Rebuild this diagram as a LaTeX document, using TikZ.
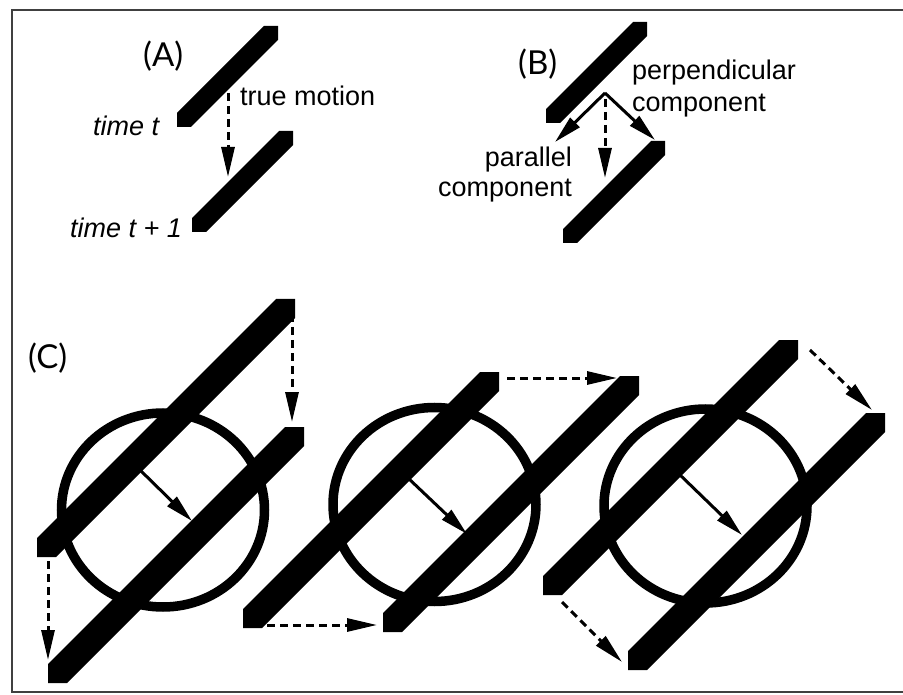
\documentclass[tikz,border=0pt]{standalone}
\usepackage{fontspec}
\setmainfont{Liberation Sans}
\newfontfamily\lblfont{Lato}
\usetikzlibrary{arrows.meta}
\newcommand\hexbar[5]{% name, x, y, side, diag
  \fill (#2,#3) -- ++(#4,0) -- ++(#5,-#5) -- ++(0,-#4) -- ++(-#4,0) -- ++(-#5,#5) -- cycle;
}
\tikzset{
  txt/.style={font=\fontsize{27}{32}\selectfont, inner sep=0pt},
  itxt/.style={font=\fontsize{27}{32}\selectfont\itshape, inner sep=0pt},
  plabel/.style={font=\lblfont\fontsize{33}{36}\selectfont, inner sep=0pt},
  dasharrow/.style={line width=3pt, dash pattern=on 8pt off 5pt, -{Triangle[length=30pt,width=13pt]}},
  solidarrow/.style={line width=3pt, -{Triangle[length=28pt,width=13pt]}},
  ring/.style={line width=9.5pt, x radius=101.5, y radius=97}
}
\begin{document}
\begin{tikzpicture}[x=1pt,y=-1pt]
\useasboundingbox (0,0) rectangle (903,695);
% frame
\draw[line width=2pt, black!75] (910,10) -- (12,10) -- (12,692) -- (910,692);

% ---------- Panel A ----------
\hexbar{a1}{177}{127}{14}{87}
\hexbar{a2}{192}{232}{14}{87}
\coordinate (aS) at (228,93);
\coordinate (aE) at (228,177);
\draw[dasharrow] (aS) -- (aE);
\node[plabel, anchor=base west] (labA) at (143,67) {(A)};
\node[txt, anchor=base west] (tm) at (240,106) {true motion};
\node[itxt, anchor=base west] (t0) at (93,136) {time t};
\node[itxt, anchor=base west] (t1) at (70,238) {time t + 1};

% ---------- Panel B ----------
\hexbar{b1}{546}{123}{14}{87}
\hexbar{b2}{563}{243}{14}{88}
\coordinate (bO) at (605,93);
\coordinate (bL) at (555,142);
\coordinate (bR) at (655,140);
\coordinate (bD0) at (605,99);
\coordinate (bD) at (605,178);
\draw[solidarrow] (bO) -- (bL);
\draw[solidarrow] (bO) -- (bR);
\draw[dasharrow] (bD0) -- (bD);
\node[plabel, anchor=base west] (labB) at (518,75) {(B)};
\node[txt, anchor=base west] (perp1) at (632,80) {perpendicular};
\node[txt, anchor=base west] (perp2) at (632,112) {component};
\node[txt, anchor=base east] (par1) at (572,167) {parallel};
\node[txt, anchor=base east] (par2) at (572,197) {component};

% ---------- Panel C ----------
\node[plabel, anchor=base west] (labC) at (28,368) {(C)};
% C1
\draw[ring] (163,510) ellipse [];
\hexbar{c1u}{37}{557}{19}{239}
\hexbar{c1l}{48}{683}{19}{237}
\coordinate (c1a) at (292,314);
\coordinate (c1b) at (292,422);
\coordinate (c1c) at (48,561);
\coordinate (c1d) at (48,660);
\coordinate (c1s) at (140,470);
\coordinate (c1t) at (192,521);
\draw[dasharrow] (c1a) -- (c1b);
\draw[dasharrow] (c1c) -- (c1d);
\draw[solidarrow] (c1s) -- (c1t);
% C2
\draw[ring] (434.5,504.5) ellipse [];
\hexbar{c2u}{243}{628}{19}{237}
\hexbar{c2l}{383}{632}{19}{237}
\coordinate (c2a) at (507,378);
\coordinate (c2b) at (617,378);
\coordinate (c2c) at (267,625);
\coordinate (c2d) at (377,625);
\coordinate (c2s) at (408,478);
\coordinate (c2t) at (467,534);
\draw[dasharrow] (c2a) -- (c2b);
\draw[dasharrow] (c2c) -- (c2d);
\draw[solidarrow] (c2s) -- (c2t);
% C3
\draw[ring] (705.5,506) ellipse [];
\hexbar{c3u}{543}{595}{19}{236}
\hexbar{c3l}{628}{670}{19}{238}
\coordinate (c3a) at (810,350);
\coordinate (c3b) at (872,410);
\coordinate (c3c) at (562,602);
\coordinate (c3d) at (622,662);
\coordinate (c3s) at (678,473);
\coordinate (c3t) at (742,535);
\draw[dasharrow] (c3a) -- (c3b);
\draw[dasharrow] (c3c) -- (c3d);
\draw[solidarrow] (c3s) -- (c3t);
\end{tikzpicture}
\end{document}
